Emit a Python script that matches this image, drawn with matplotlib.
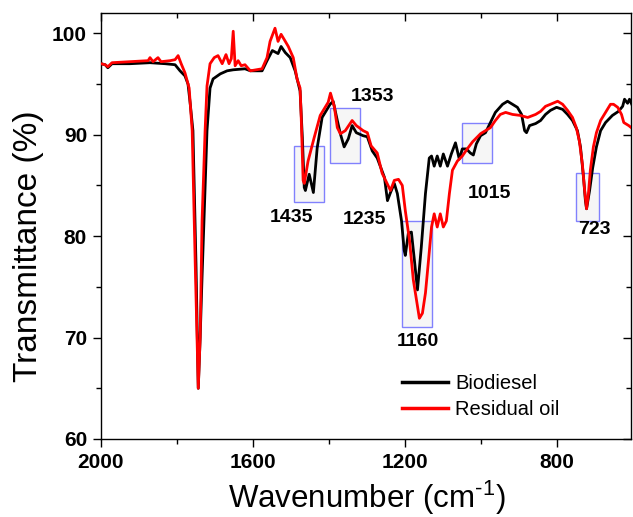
import numpy as np
import matplotlib
matplotlib.use('Agg')
import matplotlib.pyplot as plt
from matplotlib.patches import Rectangle

plt.rcParams['font.family'] = ['Liberation Sans', 'DejaVu Sans']
plt.rcParams['mathtext.fontset'] = 'custom'
plt.rcParams['mathtext.rm'] = 'Liberation Sans'

# ---- data ----
bio_wn = [2000, 1989, 1982, 1971, 1924, 1871, 1831, 1805, 1792, 1779, 1771, 1765,
          1758, 1750, 1744, 1739, 1734, 1729, 1721, 1713, 1705, 1686, 1668, 1652,
          1621, 1607, 1576, 1563, 1549, 1534, 1526, 1515, 1502, 1489, 1476, 1470,
          1465, 1462, 1452, 1441, 1431, 1418, 1397, 1389, 1378, 1370, 1360, 1349,
          1339, 1328, 1310, 1299, 1286, 1273, 1254, 1246, 1238, 1228, 1220, 1209,
          1202, 1199, 1191, 1183, 1175, 1167, 1157, 1146, 1136, 1130, 1123, 1115,
          1107, 1099, 1088, 1078, 1067, 1057, 1049, 1038, 1028, 1020, 1012, 1001,
          988, 975, 962, 943, 930, 917, 904, 893, 885, 880, 872, 856, 843, 830,
          817, 801, 785, 772, 759, 746, 738, 730, 725, 722, 714, 706, 696, 685,
          672, 654, 638, 627, 622, 614, 609, 603]
bio_t = [97.0, 96.9, 96.6, 97.0, 97.0, 97.1, 97.0, 96.9, 96.3, 95.8, 95.0, 93.0,
         90.4, 77.3, 65.0, 70.0, 76.0, 81.5, 90.4, 94.6, 95.5, 96.0, 96.3, 96.4,
         96.5, 96.3, 96.3, 97.3, 98.3, 98.0, 98.7, 98.1, 97.6, 96.3, 94.3, 89.7,
         84.8, 84.5, 86.1, 84.3, 88.7, 91.7, 93.0, 93.3, 91.4, 90.1, 88.8, 89.6,
         90.9, 90.2, 89.9, 89.8, 88.4, 87.7, 85.8, 83.5, 84.3, 85.2, 84.2, 81.5,
         78.6, 78.1, 80.3, 80.4, 77.6, 74.7, 78.9, 84.2, 87.7, 87.9, 86.9, 87.9,
         86.9, 88.1, 86.9, 88.1, 89.2, 87.6, 88.6, 88.6, 88.2, 88.0, 89.1, 89.9,
         90.2, 91.2, 92.2, 93.0, 93.3, 93.0, 92.7, 92.0, 90.4, 90.2, 90.9, 91.1,
         91.4, 92.0, 92.4, 92.7, 92.5, 92.0, 91.4, 90.4, 88.8, 85.8, 83.5, 82.7,
         84.5, 86.7, 88.8, 90.4, 91.2, 91.9, 92.3, 92.8, 93.5, 93.1, 93.5, 93.0]

oil_wn = [2000, 1989, 1982, 1971, 1924, 1876, 1871, 1863, 1850, 1842, 1818, 1805,
          1797, 1789, 1779, 1768, 1760, 1752, 1744, 1739, 1734, 1726, 1721, 1713,
          1702, 1692, 1681, 1671, 1663, 1657, 1652, 1647, 1639, 1631, 1621, 1607,
          1576, 1563, 1555, 1542, 1534, 1526, 1518, 1507, 1494, 1484, 1476, 1473,
          1468, 1465, 1455, 1439, 1423, 1402, 1396, 1386, 1378, 1370, 1357, 1339,
          1328, 1310, 1299, 1289, 1273, 1260, 1238, 1228, 1217, 1207, 1199, 1188,
          1178, 1162, 1154, 1146, 1138, 1130, 1123, 1115, 1107, 1099, 1091, 1083,
          1075, 1062, 1049, 1036, 1022, 1001, 988, 975, 962, 949, 935, 917, 896,
          877, 856, 843, 830, 817, 798, 785, 772, 759, 749, 741, 733, 727, 722,
          717, 712, 704, 696, 685, 672, 659, 651, 640, 630, 624, 611, 601]
oil_t = [97.0, 96.9, 96.7, 97.1, 97.2, 97.3, 97.6, 97.2, 97.6, 97.2, 97.3, 97.4,
         97.8, 97.0, 96.1, 94.6, 90.4, 77.3, 65.0, 70.0, 81.5, 90.4, 94.8, 97.0,
         97.6, 97.8, 97.0, 97.9, 97.0, 97.5, 100.2, 96.8, 97.3, 96.8, 96.9, 96.3,
         96.5, 97.6, 99.2, 100.5, 99.2, 99.9, 99.4, 98.7, 97.6, 95.5, 94.6, 91.7,
         85.5, 85.2, 87.4, 89.7, 91.9, 93.2, 94.1, 92.8, 90.7, 90.1, 90.4, 91.4,
         90.9, 90.4, 90.2, 88.9, 88.2, 86.2, 84.5, 85.5, 85.6, 85.0, 82.5, 79.6,
         75.7, 71.9, 72.4, 74.4, 77.6, 80.9, 82.2, 80.9, 82.2, 80.9, 81.5, 84.2,
         86.5, 87.4, 87.9, 88.6, 89.3, 90.1, 90.4, 90.7, 91.4, 92.0, 92.2, 92.0,
         91.9, 91.7, 92.0, 92.3, 92.8, 93.0, 93.3, 93.0, 92.4, 91.7, 90.7, 89.4,
         87.1, 84.5, 82.7, 84.2, 86.5, 88.8, 90.2, 91.4, 92.2, 93.0, 93.0, 92.7,
         92.0, 91.2, 90.9, 90.6]

# band labels and boxes around them
band_labels = ['1435', '1353', '1235', '1160', '1015', '723']
label_x = [1499, 1286, 1307, 1165, 978, 701]
label_y = [81.8, 93.8, 81.6, 69.6, 84.2, 80.7]
box_x = [(1491, 1412), (1397, 1318), (1209, 1128), (1051, 972), (751, 688)]
box_y = [(83.4, 88.9), (87.25, 92.65), (71.0, 81.5), (87.25, 91.2), (81.5, 86.2)]

fig = plt.figure(figsize=(6.33, 5.17), dpi=100)
ax = fig.add_axes([101 / 633, 1 - 439 / 517, 530 / 633, 426 / 517])

for (x0, x1), (y0, y1) in zip(box_x, box_y):
    ax.add_patch(Rectangle((x1, y0), x0 - x1, y1 - y0,
                           facecolor=(0.9, 0.9, 0.9, 0.35),
                           edgecolor=(0.35, 0.35, 1.0, 0.75), lw=1.0, zorder=1))

ax.plot(bio_wn, bio_t, color='black', lw=2.0, label='Biodiesel', zorder=3)
ax.plot(oil_wn, oil_t, color='#ff0000', lw=2.0, label='Residual oil', zorder=4)

for s, x, y in zip(band_labels, label_x, label_y):
    ax.text(x, y, s, fontsize=14, fontweight='bold', ha='center', va='center', zorder=5)

ax.set_xlim(2000, 605)
ax.set_ylim(60, 102)
ax.set_xticks([2000, 1600, 1200, 800])
ax.set_xticks([1800, 1400, 1000], minor=True)
ax.set_yticks([60, 70, 80, 90, 100])
ax.set_yticks([65, 75, 85, 95], minor=True)

ax.tick_params(which='both', top=True, right=True, width=1.0)
ax.tick_params(which='major', length=6, labelsize=15, pad=4)
ax.tick_params(which='minor', length=3.5)
for tk in ax.xaxis.get_major_ticks() + ax.xaxis.get_minor_ticks():
    tk.tick2line.set_marker(3)
for tk in ax.yaxis.get_major_ticks() + ax.yaxis.get_minor_ticks():
    tk.tick2line.set_marker(0)
for lab in ax.get_xticklabels() + ax.get_yticklabels():
    lab.set_fontweight('bold')
for sp in ax.spines.values():
    sp.set_linewidth(1.0)

ax.set_xlabel(r'Wavenumber (cm$^{\text{-1}}$)', fontsize=22.5)
ax.set_ylabel('Transmittance (%)', fontsize=24)
ax.xaxis.set_label_coords(0.502, -0.093)
ax.yaxis.set_label_coords(-0.108, 0.453)

leg = ax.legend(loc='upper left', bbox_to_anchor=(0.568, 0.152), frameon=False,
                fontsize=14.5, handlelength=2.3, handletextpad=0.35,
                labelspacing=0.35, borderpad=0, borderaxespad=0)
for ln in leg.get_lines():
    ln.set_linewidth(2.5)

fig.savefig('out.png', dpi=100)
